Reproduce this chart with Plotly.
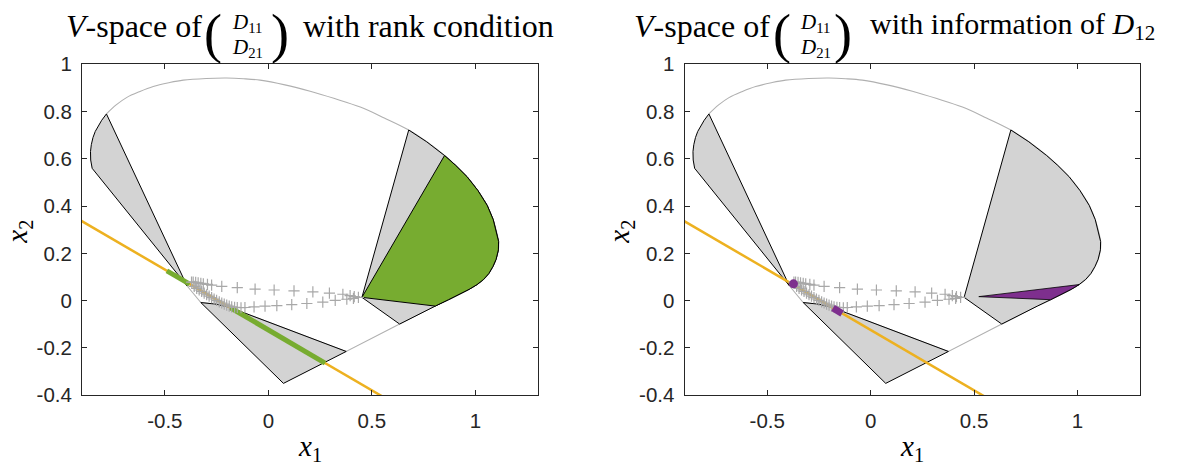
import plotly.graph_objects as go

W, H = 1183, 468

# ---------------- data ----------------
# top arc of the boundary (left lobe top -> right region top)
arc_x = [-0.782, -0.735, -0.685, -0.620, -0.556, -0.480, -0.411, -0.300, -0.201, -0.120, -0.040,
         0.080, 0.202, 0.320, 0.444, 0.560, 0.678]
arc_y = [0.790, 0.828, 0.859, 0.885, 0.906, 0.922, 0.933, 0.940, 0.942, 0.939, 0.933,
         0.913, 0.886, 0.855, 0.819, 0.773, 0.722]
# right bulge of the boundary (right region top -> lower right)
bulge_x = [0.678, 0.765, 0.851, 0.905, 0.960, 1.012, 1.057, 1.086, 1.105, 1.112, 1.111, 1.100,
           1.085, 1.065, 1.040, 1.008, 0.970, 0.927, 0.870, 0.806, 0.634]
bulge_y = [0.722, 0.672, 0.614, 0.572, 0.524, 0.466, 0.403, 0.343, 0.283, 0.250, 0.215, 0.175,
           0.145, 0.115, 0.090, 0.068, 0.048, 0.028, 0.004, -0.023, -0.099]
# lower part of the boundary (lower right -> left lobe)
low_x = [0.634, 0.376, -0.185, -0.250, -0.326, -0.393]
low_y = [-0.099, -0.215, -0.029, -0.015, -0.008, 0.063]
# left edge of the left lobe (bottom -> top)
lobe_edge_x = [-0.393, -0.851, -0.858, -0.859, -0.855, -0.847, -0.836, -0.822, -0.805, -0.782]
lobe_edge_y = [0.063, 0.560, 0.595, 0.631, 0.660, 0.690, 0.716, 0.739, 0.763, 0.790]

# bottom region
bottom_x = [-0.326, -0.250, -0.185, 0.376, 0.073, -0.326]
bottom_y = [-0.008, -0.015, -0.029, -0.215, -0.350, -0.008]

# corner of the right region
right_corner_x = [0.452]
right_corner_y = [0.014]
# index in the bulge where the rank-condition region begins
rank_start = 2

# region with information of D12 (purple)
info_x = [0.523, 1.008, 0.970, 0.927, 0.870, 0.523]
info_y = [0.017, 0.068, 0.048, 0.028, 0.004, 0.017]

# straight line (yellow)
line_x = [-0.95, 0.60]
line_y = [0.3616, -0.4306]

# rank-condition segments on the line (green)
seg1_x = [-0.49, -0.38]
seg1_y = [0.126, 0.070]
seg2_x = [-0.185, 0.274]
seg2_y = [-0.029, -0.264]

# info points on the line (purple)
dot_x = [-0.373]
dot_y = [0.071]
pseg_x = [-0.182, -0.138]
pseg_y = [-0.031, -0.054]

# sampled points (gray crosses)
pts_upper_x = [-0.371, -0.363, -0.351, -0.339, -0.326, -0.314, -0.294, -0.274, -0.225, -0.150, -0.064,
               0.028, 0.124, 0.215, 0.295, 0.360, 0.395, 0.415, 0.435]
pts_upper_y = [0.078, 0.078, 0.077, 0.075, 0.073, 0.071, 0.069, 0.066, 0.060, 0.055, 0.049,
               0.045, 0.041, 0.037, 0.032, 0.027, 0.021, 0.017, 0.014]
pts_lower_x = [-0.358, -0.346, -0.334, -0.322, -0.310, -0.298, -0.286, -0.274, -0.262, -0.250, -0.237,
               -0.225, -0.213, -0.201, -0.189, -0.177, -0.163, -0.150, -0.132, -0.113, -0.069, -0.016,
               0.041, 0.113, 0.186, 0.263, 0.323, 0.379, 0.411]
pts_lower_y = [0.060, 0.052, 0.045, 0.039, 0.032, 0.025, 0.019, 0.013, 0.007, 0.001, -0.005,
               -0.010, -0.015, -0.019, -0.023, -0.026, -0.028, -0.029, -0.030, -0.029, -0.026, -0.023,
               -0.021, -0.017, -0.012, -0.006, 0.001, 0.006, 0.010]

x_ticks = [-0.5, 0, 0.5, 1]
x_ticklabels = ["-0.5", "0", "0.5", "1"]
y_ticks = [-0.4, -0.2, 0, 0.2, 0.4, 0.6, 0.8, 1]
y_ticklabels = ["-0.4", "-0.2", "0", "0.2", "0.4", "0.6", "0.8", "1"]

titles = ["with rank condition", "with information of <i>D</i><sub>12</sub>"]

# ---------------- derived shapes ----------------
upper_x = arc_x + bulge_x[1:]
upper_y = arc_y + bulge_y[1:]
lobe_x = lobe_edge_x + [lobe_edge_x[0]]
lobe_y = lobe_edge_y + [lobe_edge_y[0]]
right_x = right_corner_x + bulge_x + right_corner_x
right_y = right_corner_y + bulge_y + right_corner_y
rank_x = right_corner_x + bulge_x[rank_start:-1] + right_corner_x
rank_y = right_corner_y + bulge_y[rank_start:-1] + right_corner_y

# ---------------- style ----------------
GRAY_FILL = "#d3d3d3"
CURVE = "#b0b0b0"
CROSS = "#a8a8a8"
GREEN = "#77AC30"
YELLOW = "#EDB120"
PURPLE = "#7E2F8E"
AX = "#262626"
SERIF = "Liberation Serif"
SANS = "Liberation Sans"

fig = go.Figure()


def poly(xs, ys, color, xa, ya, lw=1):
    fig.add_trace(go.Scatter(x=xs, y=ys, mode="lines", fill="toself", fillcolor=color,
                             line=dict(color="black", width=lw), xaxis=xa, yaxis=ya,
                             hoverinfo="skip", showlegend=False))


def line(xs, ys, color, width, xa, ya, shape="linear"):
    fig.add_trace(go.Scatter(x=xs, y=ys, mode="lines",
                             line=dict(color=color, width=width, shape=shape),
                             xaxis=xa, yaxis=ya, hoverinfo="skip", showlegend=False))


for k, (xa, ya) in enumerate([("x", "y"), ("x2", "y2")]):
    line(upper_x, upper_y, CURVE, 1.1, xa, ya, shape="spline")
    line(low_x, low_y, CURVE, 1.1, xa, ya)
    poly(lobe_x, lobe_y, GRAY_FILL, xa, ya)
    poly(bottom_x, bottom_y, GRAY_FILL, xa, ya)
    poly(right_x, right_y, GRAY_FILL, xa, ya)
    if k == 0:
        poly(rank_x, rank_y, GREEN, xa, ya)
    line(line_x, line_y, YELLOW, 2.5, xa, ya)
    if k == 0:
        line(seg1_x, seg1_y, GREEN, 5, xa, ya)
        line(seg2_x, seg2_y, GREEN, 5, xa, ya)
    for px_, py_ in [(pts_upper_x, pts_upper_y), (pts_lower_x, pts_lower_y)]:
        fig.add_trace(go.Scatter(x=px_, y=py_, mode="markers",
                                 marker=dict(symbol="cross-thin-open", size=8, color=CROSS,
                                             line=dict(color=CROSS, width=1.2)),
                                 xaxis=xa, yaxis=ya, hoverinfo="skip", showlegend=False))
    if k == 1:
        poly(info_x, info_y, PURPLE, xa, ya, lw=0.8)
        line(pseg_x, pseg_y, PURPLE, 7, xa, ya)
        fig.add_trace(go.Scatter(x=dot_x, y=dot_y, mode="markers",
                                 marker=dict(symbol="circle", size=9, color=PURPLE),
                                 xaxis=xa, yaxis=ya, hoverinfo="skip", showlegend=False))

ydom = [1 - 403 / H, 1 - 55 / H]
axcommon = dict(showline=True, mirror="ticks", ticks="inside", ticklen=5, tickwidth=1,
                linecolor=AX, tickcolor=AX, linewidth=1, showgrid=False, zeroline=False,
                tickfont=dict(family=SANS, size=20.5, color=AX))
fig.update_layout(
    width=W, height=H, margin=dict(l=0, r=0, t=0, b=0),
    paper_bgcolor="white", plot_bgcolor="white", showlegend=False,
    xaxis=dict(domain=[82 / W, 537.5 / W], range=[-0.9, 1.3], tickvals=x_ticks,
               ticktext=x_ticklabels, anchor="y", ticklabelstandoff=7, **axcommon),
    yaxis=dict(domain=ydom, range=[-0.4, 1], tickvals=y_ticks, ticktext=y_ticklabels,
               anchor="x", ticklabelstandoff=5, **axcommon),
    xaxis2=dict(domain=[684.5 / W, 1139.5 / W], range=[-0.9, 1.3], tickvals=x_ticks,
                ticktext=x_ticklabels, anchor="y2", ticklabelstandoff=7, **axcommon),
    yaxis2=dict(domain=ydom, range=[-0.4, 1], tickvals=y_ticks, ticktext=y_ticklabels,
                anchor="x2", ticklabelstandoff=5, **axcommon),
)


def ann(text, px, py, size, xanchor="center", yanchor="middle", angle=0):
    fig.add_annotation(text=text, x=px / W, y=1 - py / H, xref="paper", yref="paper",
                       showarrow=False, xanchor=xanchor, yanchor=yanchor, textangle=angle,
                       font=dict(family=SERIF, size=size, color="black"))


# titles (built from pieces to show the stacked vector)
for off, (xv, xp1, xd, xp2, xw, tsize) in zip(range(2), [(204, 213, 247, 280, 301, 32),
                                                         (772, 782, 815, 843, 868, 30)]):
    ann("<i>V</i>-space of", xv, 15, 32, xanchor="right")
    ann("(", xp1, 23, 54)
    ann("<i>D</i><sub>11</sub>", xd, 12, 21)
    ann("<i>D</i><sub>21</sub>", xd, 38, 21)
    ann(")", xp2, 23, 54)
    ann(titles[off], xw, 15, tsize, xanchor="left")

# axis labels
for cx in [309.5, 911.5]:
    ann("<i>x</i><sub>1</sub>", cx, 459, 29)
for cx in [19, 621]:
    ann("<i>x</i><sub>2</sub>", cx, 231, 29, angle=-90)

fig.write_html("out.html")
